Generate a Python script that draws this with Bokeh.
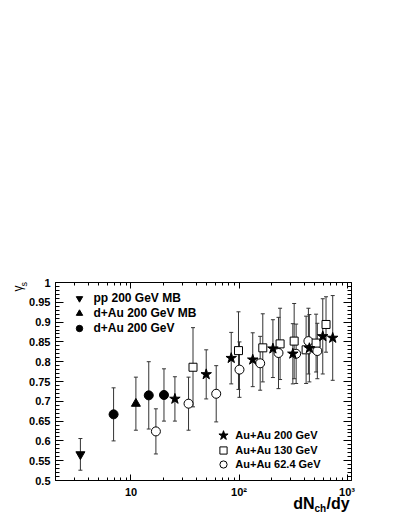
import math
from bokeh.plotting import figure
from bokeh.models import (ColumnDataSource, Whisker, TeeHead, Legend, LegendItem, Label,
                          LinearAxis, LogAxis, FixedTicker, CustomJSTickFormatter, Range1d)
from bokeh.embed import file_html
from bokeh.resources import INLINE

# ---- data ----
pp_x = [3.4]
pp_y = [0.566]
pp_e = [0.040]

dau_mb_x = [11.1]
dau_mb_y = [0.694]
dau_mb_e = [0.067]

dau_x = [6.9, 14.6, 20.2]
dau_y = [0.667, 0.715, 0.716]
dau_e = [0.067, 0.085, 0.066]

auau200_x = [25.5, 49.7, 84.7, 134, 206, 315, 448, 596, 737]
auau200_y = [0.706, 0.768, 0.809, 0.805, 0.833, 0.820, 0.834, 0.864, 0.860]
auau200_e = [0.056, 0.062, 0.065, 0.068, 0.073, 0.076, 0.085, 0.095, 0.107]

auau130_x = [37.5, 98.9, 166, 240, 324, 418, 517, 639]
auau130_y = [0.786, 0.828, 0.835, 0.845, 0.852, 0.830, 0.847, 0.894]
auau130_e = [0.100, 0.098, 0.086, 0.090, 0.095, 0.085, 0.073, 0.070]

auau62_x = [17.0, 34.1, 61.5, 101, 157, 232, 338, 439, 531]
auau62_y = [0.624, 0.694, 0.719, 0.780, 0.796, 0.822, 0.820, 0.852, 0.827]
auau62_e = [0.057, 0.067, 0.071, 0.070, 0.068, 0.090, 0.075, 0.083, 0.070]

x_lim = [2, 1100]
y_lim = [0.5, 1.0]
y_ticks = [0.5, 0.55, 0.6, 0.65, 0.7, 0.75, 0.8, 0.85, 0.9, 0.95, 1.0]
y_minor = [round(0.5 + 0.01 * i, 2) for i in range(51)]
x_ticks = [10, 100, 1000]
x_minor = [m * d for d in (1, 10, 100) for m in range(2, 10)] + [1000]

labels_top = ["pp 200 GeV MB", "d+Au 200 GeV MB", "d+Au 200 GeV"]
labels_bot = ["Au+Au 200 GeV", "Au+Au 130 GeV", "Au+Au 62.4 GeV"]

FONT = "Liberation Sans"

# ---- layout: the frame covers the whole canvas; the visible box is drawn by fixed axes ----
W, H = 383, 512
BOX_L, BOX_R, BOX_T, BOX_B = 55, 351, 282, 480   # pixel box of the axes
lx0, lx1 = math.log10(x_lim[0]), math.log10(x_lim[1])
ppd = (BOX_R - BOX_L) / (lx1 - lx0)
xr = Range1d(10 ** (lx0 - BOX_L / ppd), 10 ** (lx1 + (W - BOX_R) / ppd))
ppu = (BOX_B - BOX_T) / (y_lim[1] - y_lim[0])
yr = Range1d(y_lim[0] - (H - BOX_B) / ppu, y_lim[1] + BOX_T / ppu)

p = figure(width=W, height=H, x_axis_type="log", x_range=xr, y_range=yr,
           output_backend="svg", toolbar_location=None,
           min_border=0, min_border_left=0, min_border_right=0, min_border_top=0, min_border_bottom=0)
p.grid.visible = False
p.outline_line_color = None
p.background_fill_color = "white"
p.border_fill_color = "white"

def style_axis(ax, major_in, minor_in):
    ax.axis_line_color = "black"
    ax.major_tick_line_color = "black"
    ax.minor_tick_line_color = "black"
    ax.major_tick_in = major_in
    ax.major_tick_out = 0
    ax.minor_tick_in = minor_in
    ax.minor_tick_out = 0
    ax.major_label_text_font = FONT
    ax.major_label_text_font_style = "bold"
    ax.major_label_text_font_size = "11px"
    ax.major_label_text_color = "black"
    ax.axis_label = None

yt = FixedTicker(ticks=y_ticks, minor_ticks=y_minor)
xt = FixedTicker(ticks=x_ticks, minor_ticks=x_minor)

yfmt = CustomJSTickFormatter(code="return tick.toFixed(2).replace(/0+$/,'').replace(/\\.$/,'');")
xfmt = CustomJSTickFormatter(code="if (Math.abs(tick-10)<1e-6) return '10'; if (Math.abs(tick-100)<1e-3) return '10\u00b2'; if (Math.abs(tick-1000)<1e-2) return '10\u00b3'; return '';")
blank = CustomJSTickFormatter(code="return '';")

ya = p.yaxis[0]
ya.ticker = yt
ya.formatter = yfmt
style_axis(ya, 8, 4)
ya.major_label_standoff = 5
ya.fixed_location = x_lim[0]
ya.bounds = (y_lim[0], y_lim[1])

xa = p.xaxis[0]
xa.ticker = xt
xa.formatter = xfmt
style_axis(xa, 6, 3)
xa.major_label_standoff = 5
xa.fixed_location = y_lim[0]
xa.bounds = (x_lim[0], x_lim[1])

ra = LinearAxis(ticker=yt, formatter=blank, fixed_location=x_lim[1], bounds=(y_lim[0], y_lim[1]))
style_axis(ra, 8, 4)
p.add_layout(ra, "right")

ta = LogAxis(ticker=xt, formatter=blank, fixed_location=y_lim[1], bounds=(x_lim[0], x_lim[1]))
style_axis(ta, 6, 3)
p.add_layout(ta, "above")

# ---- error bars ----
def add_err(xs, ys, es):
    src = ColumnDataSource(dict(x=xs, lo=[y - e for y, e in zip(ys, es)], hi=[y + e for y, e in zip(ys, es)]))
    w = Whisker(base="x", lower="lo", upper="hi", source=src, dimension="height",
                line_color="#333333", line_width=1,
                upper_head=TeeHead(size=4, line_color="#333333", line_width=1),
                lower_head=TeeHead(size=4, line_color="#333333", line_width=1))
    p.add_layout(w)

for xs, ys, es in [(pp_x, pp_y, pp_e), (dau_mb_x, dau_mb_y, dau_mb_e), (dau_x, dau_y, dau_e),
                   (auau200_x, auau200_y, auau200_e), (auau130_x, auau130_y, auau130_e),
                   (auau62_x, auau62_y, auau62_e)]:
    add_err(xs, ys, es)

r_pp = p.scatter(pp_x, pp_y, marker="inverted_triangle", size=9, color="black")
r_dmb = p.scatter(dau_mb_x, dau_mb_y, marker="triangle", size=9, color="black")
r_dau = p.scatter(dau_x, dau_y, marker="circle", size=9, color="black")
r_62 = p.scatter(auau62_x, auau62_y, marker="circle", size=9, line_color="black", fill_color="white", line_width=1)
r_130 = p.scatter(auau130_x, auau130_y, marker="square", size=8, line_color="black", fill_color="white", line_width=1)
r_200 = p.scatter(auau200_x, auau200_y, marker="star", size=11, color="black")

def one_legend(label, rend, cx, cy, g, text_x, fs):
    # cx, cy: pixel centre of the legend glyph (from top-left); text_x: pixel start of its label
    lg = Legend(items=[LegendItem(label=label, renderers=[rend])],
                location=(cx - g / 2, H - (cy + g / 2)),
                border_line_color=None, background_fill_alpha=0,
                label_text_font=FONT, label_text_font_style="bold", label_text_font_size=fs,
                label_text_color="black",
                glyph_width=g, glyph_height=g, label_height=g, spacing=0,
                padding=0, margin=0, label_standoff=max(0, round(text_x - (cx + g / 2))))
    p.add_layout(lg)

one_legend(labels_top[0], r_pp, 78.5, 298, 16, 93.5, "12px")
one_legend(labels_top[1], r_dmb, 78.5, 313, 16, 93.5, "12px")
one_legend(labels_top[2], r_dau, 78.5, 328, 16, 93.5, "12px")
one_legend(labels_bot[0], r_200, 223.3, 435, 24, 235.5, "11px")
one_legend(labels_bot[1], r_130, 223.3, 449.5, 18, 235.5, "11px")
one_legend(labels_bot[2], r_62, 223.3, 464, 18, 235.5, "11px")

# ---- axis titles (pixel positions measured from top-left) ----
def lab(px, py, **kw):
    p.add_layout(Label(x=px, y=H - py, x_units="screen", y_units="screen", text_font=FONT,
                       text_color="black", text_baseline="alphabetic", text_align="left", **kw))

lab(17, 291, text="\u03b3", angle=math.pi / 2, text_font_size="12px")
lab(23, 286, text="s", angle=math.pi / 2, text_font_size="9px")
lab(292.7, 503, text="dN", text_font_style="bold", text_font_size="16px")
lab(314, 507.5, text="ch", text_font_style="bold", text_font_size="10px")
lab(326, 503, text="/dy", text_font_style="bold", text_font_size="16px")

open("out.html", "w").write(file_html(p, INLINE))
